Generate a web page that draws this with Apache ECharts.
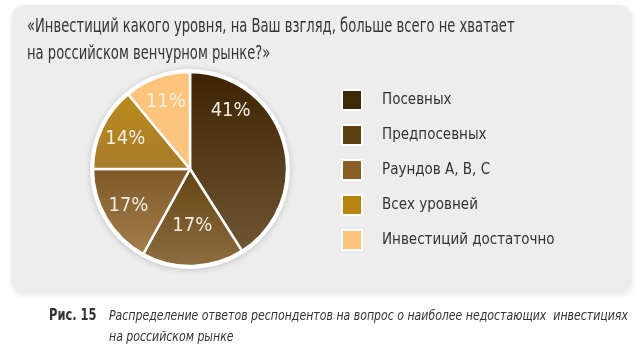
<!DOCTYPE html>
<html>
<head>
<meta charset="utf-8">
<script src="https://cdn.jsdelivr.net/npm/echarts@6/dist/echarts.min.js"></script>
<style>
  html, body { margin: 0; padding: 0; background: #ffffff; }
  #chart { width: 640px; height: 350px; }
</style>
</head>
<body>
<div id="chart"></div>
<script>
// Survey answers: which investment stage is most lacking on the Russian venture market
const categories = ['Посевных', 'Предпосевных', 'Раундов A, B, C', 'Всех уровней', 'Инвестиций достаточно'];
const shares = [41, 17, 17, 14, 11];
const titleLines = ['«Инвестиций какого уровня, на Ваш взгляд, больше всего не хватает', 'на российском венчурном рынке?»'];
const captionLabel = 'Рис. 15';
const captionLines = ['Распределение ответов респондентов на вопрос о наиболее недостающих  инвестициях', 'на российском рынке'];

// Flat swatch colours and top/bottom gradient stops for each slice
const swatch = ['#3f2806', '#5e4113', '#8a5f25', '#b8860f', '#fdc47d'];
const gradTop = ['#3c2402', '#634414', '#7d5726', '#ba8b1c', '#fec47c'];
const gradBottom = ['#6f5533', '#8e6d40', '#a5804f', '#a67c2b', '#fcc47f'];

const FONT = "'DejaVu Sans Condensed', 'Liberation Sans Narrow', sans-serif";
const PIE_CENTER = [190, 169];
const PIE_R = 97;

const chart = echarts.init(document.getElementById('chart'), null, { renderer: 'canvas' });

const sliceData = categories.map((name, i) => ({
  name,
  value: shares[i],
  itemStyle: {
    color: new echarts.graphic.LinearGradient(0, 0, 0, 1, [
      { offset: 0, color: gradTop[i] },
      { offset: 1, color: gradBottom[i] }
    ])
  }
}));

const labelData = categories.map((name, i) => ({ name, value: shares[i] }));

// horizontally condensed text block
function condensedText(x, y, text, font, lineHeight, sx, fill) {
  return {
    type: 'text',
    x: x,
    y: y,
    scaleX: sx,
    style: {
      x: 0,
      y: 0,
      text: text,
      font: font,
      lineHeight: lineHeight,
      fill: fill,
      verticalAlign: 'top'
    }
  };
}

chart.setOption({
  backgroundColor: '#ffffff',
  animation: false,
  graphic: [
    {
      type: 'rect',
      z: -10,
      shape: { x: 12, y: 5, width: 620, height: 288, r: 13 },
      style: {
        fill: '#ededed',
        shadowColor: 'rgba(0,0,0,0.10)',
        shadowBlur: 6,
        shadowOffsetY: 2
      }
    },
    condensedText(27, 13, titleLines.join('\n'), '20px ' + FONT, 27, 0.73, '#353535'),
    condensedText(49, 306, captionLabel, 'bold 15px ' + FONT, 20, 0.85, '#333333'),
    condensedText(109, 306, captionLines.join('\n'), 'italic 14px ' + FONT, 21, 0.87, '#333333')
  ],
  legend: {
    orient: 'vertical',
    left: 341,
    top: 89,
    padding: 0,
    icon: 'rect',
    itemWidth: 20,
    itemHeight: 20,
    itemGap: 13,
    selectedMode: false,
    textStyle: {
      fontFamily: FONT,
      fontSize: 15,
      color: '#333333',
      padding: [0, 0, 0, 15]
    },
    data: categories.map((name, i) => ({ name, itemStyle: { color: swatch[i] } }))
  },
  series: [
    {
      // white rim behind the pie
      type: 'pie',
      silent: true,
      center: PIE_CENTER,
      radius: [0, PIE_R + 3],
      z: 1,
      label: { show: false },
      labelLine: { show: false },
      itemStyle: {
        color: '#ffffff',
        shadowColor: 'rgba(0,0,0,0.18)',
        shadowBlur: 6,
        shadowOffsetY: 1
      },
      data: [{ name: '', value: 1 }]
    },
    {
      type: 'pie',
      center: PIE_CENTER,
      radius: [0, PIE_R],
      startAngle: 90,
      clockwise: true,
      z: 2,
      label: { show: false },
      labelLine: { show: false },
      emphasis: { disabled: true },
      itemStyle: { borderColor: '#ffffff', borderWidth: 2.5 },
      data: sliceData
    },
    {
      // transparent ring used only to place the percentage labels
      type: 'pie',
      silent: true,
      center: PIE_CENTER,
      radius: [40, PIE_R],
      startAngle: 90,
      clockwise: true,
      z: 3,
      itemStyle: { color: 'rgba(0,0,0,0)' },
      label: {
        show: true,
        position: 'inside',
        formatter: '{c}%',
        fontFamily: FONT,
        fontSize: 20,
        color: '#f3ede2'
      },
      labelLine: { show: false },
      labelLayout: function (params) {
        if (params.dataIndex === 0) return { dx: -28, dy: -38 };
        if (params.dataIndex === 1) return { dy: -15 };
        return {};
      },
      data: labelData
    }
  ]
});
</script>
</body>
</html>
